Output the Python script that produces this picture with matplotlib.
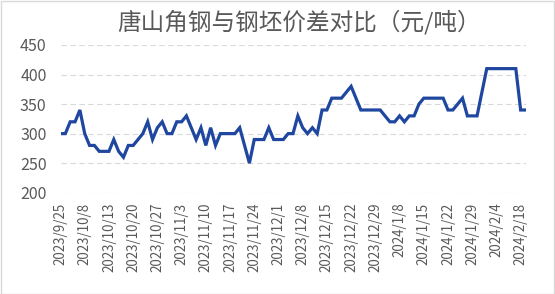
import matplotlib
matplotlib.use('Agg')
import matplotlib.pyplot as plt
from matplotlib.patches import Rectangle

plt.rcParams['font.family'] = ['Noto Sans CJK SC', 'DejaVu Sans']

title = '唐山角钢与钢坯价差对比（元/吨）'

# price spread per trading day, 2023/9/25 .. 2024/2/19
spread = [300, 300, 320, 320, 340, 300, 280, 280, 270, 270,
          270, 290, 270, 260, 280, 280, 290, 300, 320, 290,
          310, 320, 300, 300, 320, 320, 330, 310, 290, 310,
          280, 310, 280, 300, 300, 300, 300, 310, 280, 250,
          290, 290, 290, 310, 290, 290, 290, 300, 300, 330,
          310, 300, 310, 300, 340, 340, 360, 360, 360, 370,
          380, 360, 340, 340, 340, 340, 340, 330, 320, 320,
          330, 320, 330, 330, 350, 360, 360, 360, 360, 360,
          340, 340, 350, 360, 330, 330, 330, 370, 410, 410,
          410, 410, 410, 410, 410, 340, 340]

# one label every 5 trading days
tick_labels = ['2023/9/25', '2023/10/8', '2023/10/13', '2023/10/20', '2023/10/27',
               '2023/11/3', '2023/11/10', '2023/11/17', '2023/11/24', '2023/12/1',
               '2023/12/8', '2023/12/15', '2023/12/22', '2023/12/29', '2024/1/8',
               '2024/1/15', '2024/1/22', '2024/1/29', '2024/2/4', '2024/2/18']

fig = plt.figure(figsize=(5.55, 2.94), dpi=100)
ax = fig.add_axes([60.5 / 555, 1 - 192.7 / 294, 465 / 555, 147.7 / 294])

x = list(range(len(spread)))
ax.plot(x, spread, color='#1F47A0', lw=2.3, solid_joinstyle='miter')

ax.set_ylim(200, 450)
ax.set_yticks([200, 250, 300, 350, 400, 450])
ax.set_xlim(0, len(spread) - 1)
ax.set_xticks(list(range(0, 5 * len(tick_labels), 5)))
ax.set_xticklabels(tick_labels, rotation=90, fontsize=9.6, color='#595959')
ax.tick_params(axis='y', length=0, pad=10, labelsize=11.5, labelcolor='#595959')
ax.tick_params(axis='x', length=0, pad=7)

ax.grid(axis='y', color='#D9D9D9', lw=0.8, dashes=(5, 3))
ax.set_axisbelow(True)
for s in ax.spines.values():
    s.set_visible(False)

fig.text(299 / 555, 1 - 22 / 294, title, ha='center', va='center',
         fontsize=17, color='#595959')

fig.patches.append(Rectangle((0.5 / 555, 0.5 / 294), 553.5 / 555, 292.5 / 294,
                             transform=fig.transFigure, fill=False,
                             edgecolor='#D9D9D9', lw=1))

fig.savefig('out.png', dpi=100)
